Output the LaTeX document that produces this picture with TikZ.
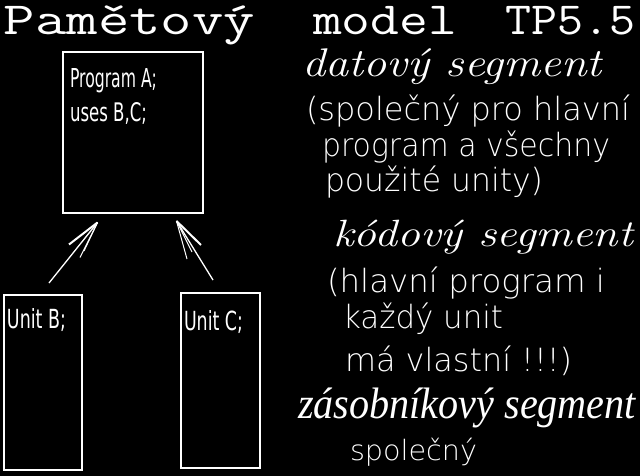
\documentclass[tikz,border=0pt]{standalone}
\usepackage{fontspec}
\usepackage{graphicx}
\IfFontExistsTF{DejaVu Sans ExtraLight}
  {\newfontfamily\thinsans{DejaVu Sans ExtraLight}}
  {\newfontfamily\thinsans{DejaVu Sans}}
\newfontfamily\boxsans{DejaVu Sans}
\newfontfamily\timesit{Liberation Serif}
\newcommand{\fitw}[2]{\resizebox{#1}{\height}{#2}}
\newcommand{\fitwh}[3]{\resizebox{#1}{#2}{#3}}
\begin{document}
\begin{tikzpicture}[x=1pt,y=-1pt,
  txt/.style={anchor=base west,inner sep=0pt,outer sep=0pt,text=white},
  titletxt/.style={txt,font=\ttfamily\fontsize{46}{46}\selectfont},
  itxt/.style={txt,font=\itshape\fontsize{#1}{#1}\selectfont},
  stxt/.style={txt,font=\thinsans\fontsize{#1}{#1}\selectfont},
  btxt/.style={txt,font=\boxsans\fontsize{26}{26}\selectfont},
  boxnode/.style={draw=white,line width=2pt,inner sep=0pt,outer sep=0pt,anchor=north west},
  shaft/.style={draw=white,line width=1.3pt},
  barb/.style={draw=white,line width=2pt},
  thinbarb/.style={draw=white,line width=1pt}]
\useasboundingbox (0,0) rectangle (640,476);
\clip (0,0) rectangle (640,476);
\fill[black] (0,0) rectangle (640,476);

% title
\node[titletxt] (t1) at (4,35) {\fitw{251pt}{Pamětový}};
\node[titletxt] (t2) at (313,35) {\fitw{144pt}{model}};
\node[titletxt] (t3) at (505,35) {\fitw{130pt}{TP5.5}};

% boxes
\node[boxnode,minimum width=140pt,minimum height=161pt] (prog) at (63,52) {};
\node[boxnode,minimum width=78pt,minimum height=175pt] (unitb) at (4,295) {};
\node[boxnode,minimum width=79pt,minimum height=175pt] (unitc) at (181,293) {};

\node[btxt] (p1) at (70,88) {\fitwh{87pt}{19pt}{Program A;}};
\node[btxt] (p2) at (70,122) {\fitwh{77pt}{19pt}{uses B,C;}};
\node[btxt] (ub) at (7,328) {\fitwh{59pt}{20pt}{Unit B;}};
\node[btxt] (uc) at (184,330) {\fitwh{59pt}{20pt}{Unit C;}};

% arrows
\coordinate (a1s) at (49,283);
\coordinate (a1e) at (97.5,222.5);
\coordinate (a2s) at (213,280);
\coordinate (a2e) at (176.5,221);
\draw[shaft] (a1s) -- (a1e);
\draw[barb] (a1e) -- (69,244.5);
\draw[thinbarb] (a1e) -- (80,257.5);
\draw[thinbarb] (a1e) -- (84,251);
\draw[shaft] (a2s) -- (a2e);
\draw[barb] (a2e) -- (201,245);
\draw[thinbarb] (a2e) -- (187,259);
\draw[thinbarb] (a2e) -- (192,252);

% right-hand text
\node[itxt=40] (d1) at (302,77) {\fitw{300pt}{datový segment}};
\node[stxt=32] (d2) at (306,121) {\fitw{324pt}{(společný pro hlavní}};
\node[stxt=32] (d3) at (322,157) {\fitw{288pt}{program a všechny}};
\node[stxt=32] (d4) at (325,191) {\fitw{218pt}{použité unity)}};

\node[itxt=38] (k1) at (333,247) {\fitw{300pt}{kódový segment}};
\node[stxt=32] (k2) at (327,292) {\fitw{278pt}{(hlavní program i}};
\node[stxt=32] (k3) at (343,328) {\fitw{160pt}{každý unit}};
\node[stxt=32] (k4) at (345,371) {\fitw{227pt}{má vlastní !!!)}};

\node[txt,font=\timesit\itshape\fontsize{44}{44}\selectfont] (z1) at (298,418) {\fitw{338pt}{zásobníkový segment}};
\node[stxt=28] (z2) at (350,460) {\fitw{127pt}{společný}};
\end{tikzpicture}
\end{document}
